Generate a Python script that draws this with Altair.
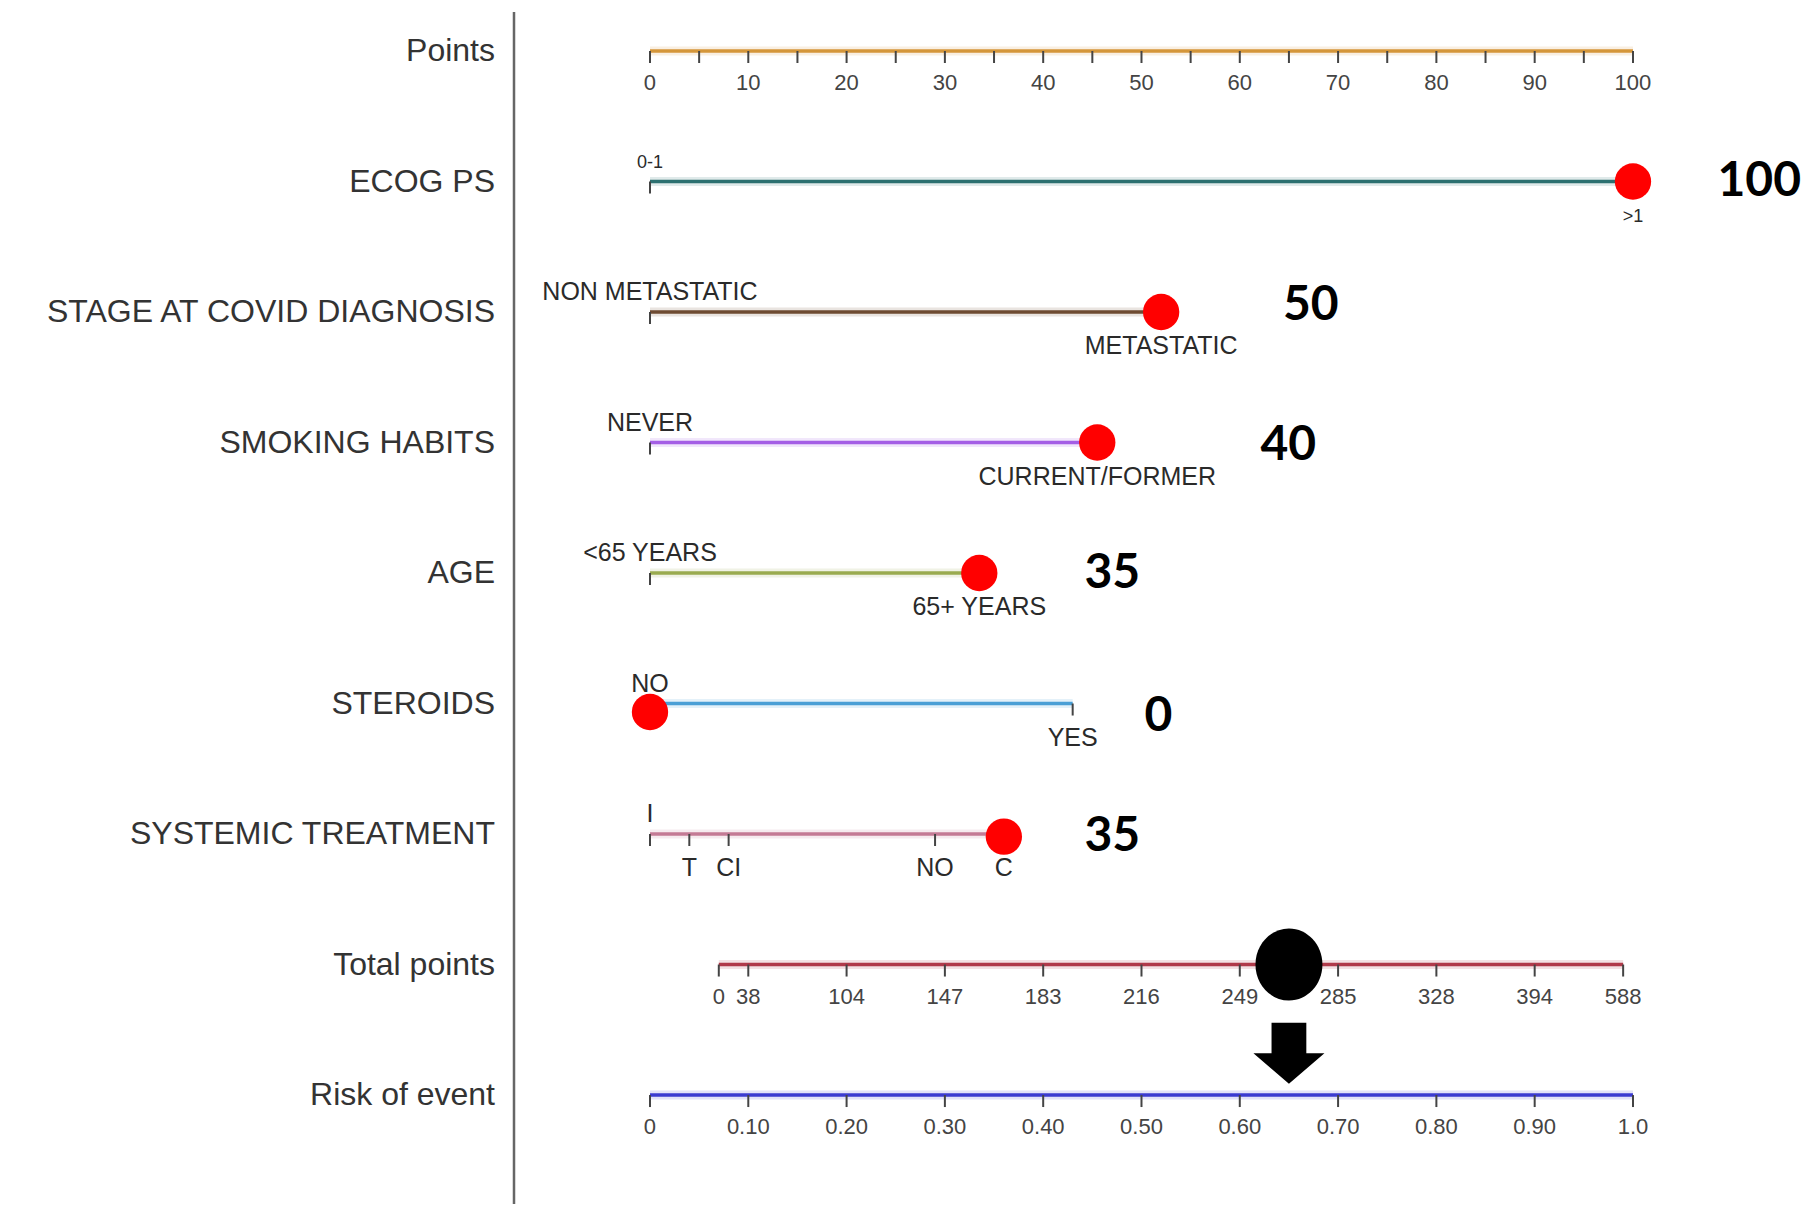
import altair as alt
import pandas as pd

# ---------------- data ----------------
row_labels = ["Points", "ECOG PS", "STAGE AT COVID DIAGNOSIS", "SMOKING HABITS", "AGE",
              "STEROIDS", "SYSTEMIC TREATMENT", "Total points", "Risk of event"]

points_ticks = list(range(0, 101, 5))
points_tick_labels = list(range(0, 101, 10))

var_levels = [
    ["0-1", ">1"],
    ["NON METASTATIC", "METASTATIC"],
    ["NEVER", "CURRENT/FORMER"],
    ["<65 YEARS", "65+ YEARS"],
    ["NO", "YES"],
    ["I", "T", "CI", "NO", "C"],
]
var_points = [
    [0, 100],
    [0, 52],
    [0, 45.5],
    [0, 33.5],
    [0, 43],
    [0, 4, 8, 29, 36],
]
# which side each level label sits on
var_label_side = [
    ["above", "below"],
    ["above", "below"],
    ["above", "below"],
    ["above", "below"],
    ["above", "below"],
    ["above", "below", "below", "below", "below"],
]
var_colors = ["#2c7070", "#6e4b32", "#a45ee5", "#9aab4f", "#4a9fd5", "#c47a95"]
selected_level = [1, 1, 1, 1, 0, 4]
dot_offset = [0, 0, 0, 0, 0.065, 0.02]               # row offsets of the red dots
score_text = ["100", "50", "40", "35", "0", "35"]
score_x = [108.6, 64.4, 62.1, 44.2, 50.3, 44.2]      # on points scale
score_dy = [0, -0.045, 0.03, 0.01, 0.1, 0.02]        # row offsets

total_labels = ["0", "38", "104", "147", "183", "216", "249", "285", "328", "394", "588"]
total_pos = [7, 10, 20, 30, 40, 50, 60, 70, 80, 90, 99]   # on points scale
total_selected_pos = 65

risk_ticks = [0, 0.1, 0.2, 0.3, 0.4, 0.5, 0.6, 0.7, 0.8, 0.9, 1.0]
risk_labels = ["0", "0.10", "0.20", "0.30", "0.40", "0.50", "0.60", "0.70", "0.80", "0.90", "1.0"]
risk_selected = 0.65

# ---------------- tables ----------------
TICK = 0.092  # tick length in row units
lines, ticks, above, below, small_above, small_below, tick_labels, dots = [], [], [], [], [], [], [], []

lines.append(dict(x=0, x2=100, y=0, c="#d4963a"))
for t in points_ticks:
    ticks.append(dict(x=t, y=0, y2=TICK))
for t in points_tick_labels:
    tick_labels.append(dict(x=t, y=0, t=str(t)))

for i, (levs, pts, sides, col) in enumerate(zip(var_levels, var_points, var_label_side, var_colors)):
    r = i + 1
    lines.append(dict(x=min(pts), x2=max(pts), y=r, c=col))
    for lev, p, s in zip(levs, pts, sides):
        ticks.append(dict(x=p, y=r, y2=r + TICK))
        rec = dict(x=p, y=r, t=lev)
        if r == 1:
            (small_above if s == "above" else small_below).append(rec)
        else:
            (above if s == "above" else below).append(rec)
    dots.append(dict(x=pts[selected_level[i]], y=r + dot_offset[i]))

lines.append(dict(x=total_pos[0], x2=total_pos[-1], y=7, c="#b03a4a"))
for p, lab in zip(total_pos, total_labels):
    ticks.append(dict(x=p, y=7, y2=7 + TICK))
    tick_labels.append(dict(x=p, y=7, t=lab))

lines.append(dict(x=0, x2=100, y=8, c="#3b3bd0"))
for v, lab in zip(risk_ticks, risk_labels):
    ticks.append(dict(x=v * 100, y=8, y2=8 + TICK))
    tick_labels.append(dict(x=v * 100, y=8, t=lab))

scores = [dict(x=sx, y=i + 1 + dy, t=st) for i, (sx, dy, st) in enumerate(zip(score_x, score_dy, score_text))]
rows = [dict(y=i, t=lab) for i, lab in enumerate(row_labels)]
big_dot = [dict(x=total_selected_pos, y=7)]
arrow = [dict(x=risk_selected * 100, y=7.68)]

# ---------------- scales ----------------
XS = alt.Scale(domain=[-65.31, 117.5], nice=False, zero=False)
YS = alt.Scale(domain=[-0.3295, 8.835], nice=False, zero=False, reverse=True)


def X(f="x"):
    return alt.X(f"{f}:Q", scale=XS, axis=None)


def Y(f="y"):
    return alt.Y(f"{f}:Q", scale=YS, axis=None)


def D(recs):
    return alt.Data(values=recs)


halo = alt.Chart(D(lines)).mark_rule(strokeWidth=9, opacity=0.15).encode(
    x=X(), x2="x2:Q", y=Y(), color=alt.Color("c:N", scale=None))
line_l = alt.Chart(D(lines)).mark_rule(strokeWidth=3.5).encode(
    x=X(), x2="x2:Q", y=Y(), color=alt.Color("c:N", scale=None))
tick_l = alt.Chart(D(ticks)).mark_rule(strokeWidth=2, color="#444444").encode(
    x=X(), y=Y(), y2="y2:Q")

tick_txt = alt.Chart(D(tick_labels)).mark_text(
    font="Liberation Sans", fontSize=22, color="#444444", baseline="middle", dy=32
).encode(x=X(), y=Y(), text="t:N")

LEV_FONT = "Liberation Sans"
above_txt = alt.Chart(D(above)).mark_text(
    font=LEV_FONT, fontSize=25, color="#2a2a2a", baseline="middle", dy=-20
).encode(x=X(), y=Y(), text="t:N")
below_txt = alt.Chart(D(below)).mark_text(
    font=LEV_FONT, fontSize=25, color="#2a2a2a", baseline="middle", dy=34
).encode(x=X(), y=Y(), text="t:N")
s_above_txt = alt.Chart(D(small_above)).mark_text(
    font=LEV_FONT, fontSize=18, color="#2a2a2a", baseline="middle", dy=-19
).encode(x=X(), y=Y(), text="t:N")
s_below_txt = alt.Chart(D(small_below)).mark_text(
    font=LEV_FONT, fontSize=18, color="#2a2a2a", baseline="middle", dy=35
).encode(x=X(), y=Y(), text="t:N")

row_txt = alt.Chart(D(rows)).mark_text(
    font="Liberation Sans", fontSize=32, color="#333333", align="right", baseline="middle"
).encode(x=alt.value(487), y=Y(), text="t:N")

divider = alt.Chart(D([{"a": 1}])).mark_rule(color="#666666", strokeWidth=2.5).encode(
    x=alt.value(506), y=alt.value(4), y2=alt.value(1206))

dot_l = alt.Chart(D(dots)).mark_point(filled=True, color="#ff0000", opacity=1, size=1320, shape="circle").encode(
    x=X(), y=Y())

big_l = alt.Chart(D(big_dot)).mark_point(
    filled=True, color="#000000", opacity=1, size=5184,
    shape="M 0 -1 A 0.93 1 0 1 1 0 1 A 0.93 1 0 1 1 0 -1 Z").encode(x=X(), y=Y())

arrow_l = alt.Chart(D(arrow)).mark_point(
    filled=True, color="#000000", opacity=1, size=5041,
    shape="M -0.49 -0.86 L 0.49 -0.86 L 0.49 0 L 1 0 L 0 0.86 L -1 0 L -0.49 0 Z").encode(x=X(), y=Y())

score_l = alt.Chart(D(scores)).mark_text(
    font="Lato", fontWeight="bold", fontSize=48, color="#000000", align="left", baseline="middle"
).encode(x=X(), y=Y(), text="t:N")

chart = alt.layer(
    divider, halo, line_l, tick_l, tick_txt, above_txt, below_txt, s_above_txt, s_below_txt,
    row_txt, dot_l, big_l, arrow_l, score_l
).properties(
    width=1797, height=1196, autosize=alt.AutoSizeParams(type="none"), padding=0
).configure_view(stroke=None)

chart.save("out.html", embed_options={"renderer": "svg", "actions": False})
